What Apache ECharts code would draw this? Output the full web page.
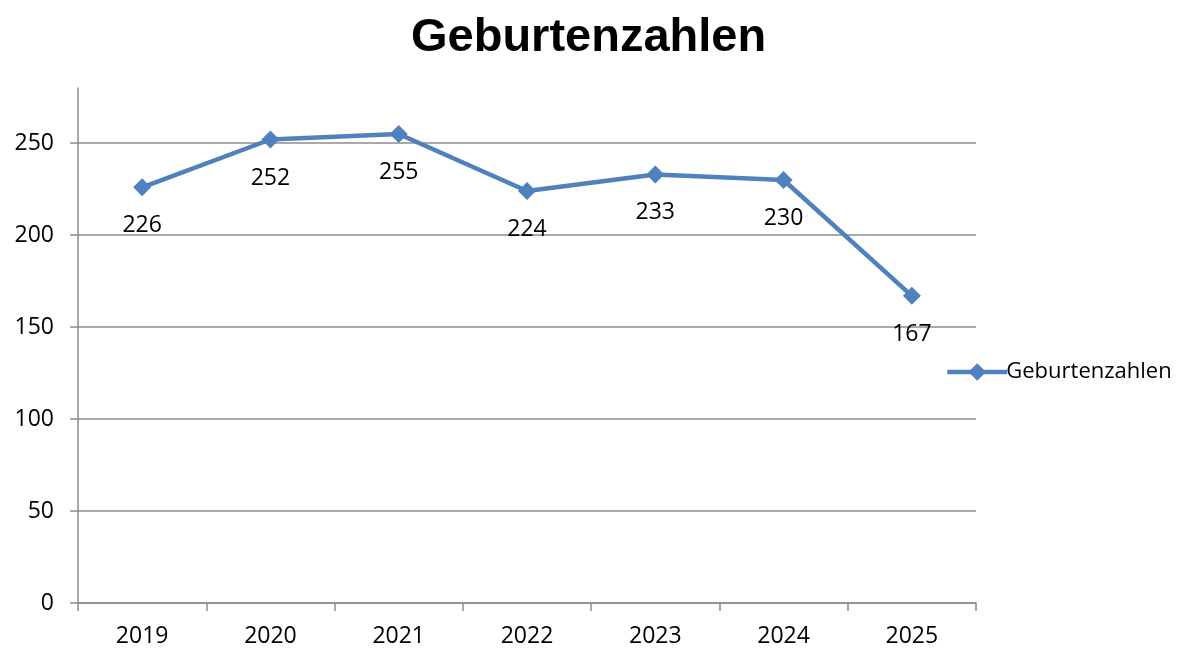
<!DOCTYPE html>
<html>
<head>
<meta charset="utf-8">
<script src="https://cdn.jsdelivr.net/npm/echarts@6/dist/echarts.min.js"></script>
<style>
  html, body { margin: 0; padding: 0; background: #fff; }
  #chart { width: 1186px; height: 650px; }
</style>
</head>
<body>
<div id="chart"></div>
<script>
const years = ['2019', '2020', '2021', '2022', '2023', '2024', '2025'];
const births = [226, 252, 255, 224, 233, 230, 167];
const yTicks = [0, 50, 100, 150, 200, 250];

const chart = echarts.init(document.getElementById('chart'));
const gray = '#8c8c8c';
const font = '"Open Sans", "Noto Sans", sans-serif';

chart.setOption({
  animation: false,
  title: {
    text: 'Geburtenzahlen',
    left: 406,
    top: 10,
    textStyle: { fontFamily: '"Liberation Sans", Arial, sans-serif', fontWeight: 'bold', fontSize: 47, color: '#000' }
  },
  legend: {
    data: ['Geburtenzahlen'],
    orient: 'vertical',
    left: 940,
    top: 356,
    itemWidth: 60,
    itemHeight: 22,
    itemGap: 4,
    lineStyle: { width: 4.5 },
    textStyle: { fontFamily: font, fontSize: 22, color: '#000', padding: [0, 0, 0, -6] }
  },
  grid: { left: 78, right: 210, top: 88, bottom: 47 },
  xAxis: {
    type: 'category',
    data: years,
    boundaryGap: true,
    axisLine: { lineStyle: { color: gray, width: 1.5 } },
    axisTick: { show: true, length: 8, lineStyle: { color: gray, width: 1.5 } },
    axisLabel: { margin: 22, fontFamily: font, fontSize: 23, color: '#000' }
  },
  yAxis: {
    type: 'value',
    min: 0,
    max: 280,
    interval: 50,
    axisLine: { show: true, lineStyle: { color: gray, width: 1.5 } },
    axisTick: { show: true, length: 8, customValues: yTicks, lineStyle: { color: gray, width: 1.5 } },
    axisLabel: { margin: 24, customValues: yTicks, fontFamily: font, fontSize: 23, color: '#000' },
    splitLine: { show: true, lineStyle: { color: gray, width: 1.5 } }
  },
  series: [{
    name: 'Geburtenzahlen',
    type: 'line',
    data: births,
    symbol: 'diamond',
    symbolSize: 18,
    lineStyle: { color: '#4f81bd', width: 4.5 },
    itemStyle: { color: '#4f81bd' },
    label: {
      show: true,
      position: 'bottom',
      distance: 18,
      fontFamily: font,
      fontSize: 23,
      color: '#000'
    }
  }]
});
</script>
</body>
</html>
